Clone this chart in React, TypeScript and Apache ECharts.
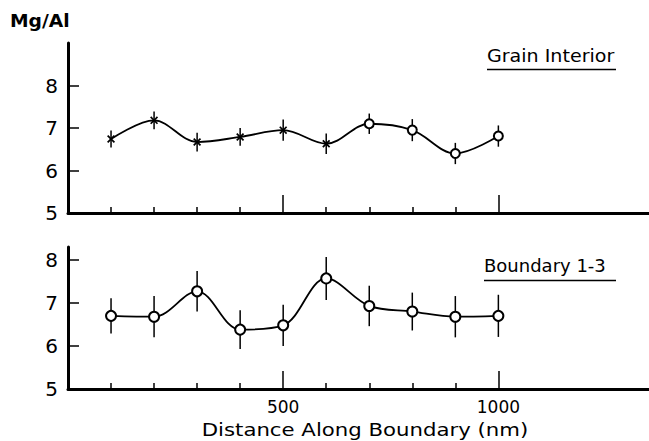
import React, { useEffect, useRef } from "react";
import * as echarts from "echarts";

const distances = [100, 200, 300, 400, 500, 600, 700, 800, 900, 1000];
const interiorValues = [6.74, 7.18, 6.67, 6.79, 6.95, 6.63, 7.1, 6.95, 6.4, 6.81];
const interiorErrors = [0.2, 0.21, 0.22, 0.21, 0.25, 0.24, 0.24, 0.26, 0.25, 0.25];
const interiorMarkers = ["cross", "cross", "cross", "cross", "cross", "cross", "circle", "circle", "circle", "circle"];
const boundaryValues = [6.7, 6.68, 7.27, 6.38, 6.48, 7.57, 6.93, 6.8, 6.68, 6.7];
const boundaryErrors = [0.41, 0.48, 0.47, 0.45, 0.48, 0.5, 0.47, 0.44, 0.48, 0.49];
const yLabelValues = [5, 6, 7, 8];
const yTickValues = [6, 7, 8];
const minorXTicks = [100, 200, 300, 400, 600, 700, 800, 900];
const majorXTicks = [500, 1000];
const panelTitles = ["Grain Interior", "Boundary 1-3"];
const yAxisTitle = "Mg/Al";
const xAxisTitle = "Distance Along Boundary (nm)";

const CROSS = "path://M0,1.5 L1.5,0 L5,3.5 L8.5,0 L10,1.5 L6.5,5 L10,8.5 L8.5,10 L5,6.5 L1.5,10 L0,8.5 L3.5,5 Z";
const FONT = "DejaVu Sans";

export default function App() {
  const ref = useRef<HTMLDivElement>(null);
  useEffect(() => {
    if (!ref.current) return;
    const chart = echarts.init(ref.current, null, { renderer: "svg" });

    const errRender = (params: any, api: any) => {
      const x = api.value(0);
      const y = api.value(1);
      const e = api.value(2);
      const p1 = api.coord([x, y + e]);
      const p2 = api.coord([x, y - e]);
      return {
        type: "line",
        shape: { x1: p1[0], y1: p1[1], x2: p2[0], y2: p2[1] },
        style: { stroke: "#000", lineWidth: 1.5 },
      };
    };

    const xMinor = (grid: number) => ({
      type: "value",
      gridIndex: grid,
      min: 0,
      max: 1350,
      position: "bottom",
      axisLine: { show: true, lineStyle: { color: "#000", width: 3 } },
      axisTick: { show: true, inside: true, length: 6, customValues: minorXTicks, lineStyle: { color: "#000", width: 1.5 } },
      axisLabel: { show: false },
      splitLine: { show: false },
    });
    const xMajor = (grid: number, labels: boolean) => ({
      type: "value",
      gridIndex: grid,
      min: 0,
      max: 1350,
      position: "bottom",
      offset: 0,
      axisLine: { show: false },
      axisTick: { show: true, inside: true, length: 18, customValues: majorXTicks, lineStyle: { color: "#000", width: 1.5 } },
      axisLabel: {
        show: labels,
        customValues: majorXTicks,
        formatter: (v: number) => String(v),
        color: "#000",
        fontSize: 17,
        fontFamily: FONT,
        margin: 9,
      },
      splitLine: { show: false },
    });
    const yAx = (grid: number, max: number) => ({
      type: "value",
      gridIndex: grid,
      min: 5,
      max,
      axisLine: { show: true, lineStyle: { color: "#000", width: 3 } },
      axisTick: { show: true, inside: true, length: 11, customValues: yTickValues, lineStyle: { color: "#000", width: 1.5 } },
      axisLabel: { show: true, customValues: yLabelValues, formatter: (v: number) => String(v), color: "#000", fontSize: 20, fontFamily: FONT, margin: 10 },
      splitLine: { show: false },
    });

    chart.setOption({
      animation: false,
      backgroundColor: "#fff",
      grid: [
        { left: 68, right: 0, top: 43, height: 170 },
        { left: 68, right: 0, top: 247, height: 142 },
      ],
      xAxis: [xMinor(0), xMajor(0, false), xMinor(1), xMajor(1, true)],
      yAxis: [yAx(0, 9), yAx(1, 8.3)],
      series: [
        {
          type: "custom",
          xAxisIndex: 0,
          yAxisIndex: 0,
          encode: { x: 0, y: 1 },
          data: distances.map((d, i) => [d, interiorValues[i], interiorErrors[i]]),
          renderItem: errRender,
          z: 1,
        },
        {
          type: "line",
          xAxisIndex: 0,
          yAxisIndex: 0,
          smooth: 0.35,
          lineStyle: { color: "#000", width: 1.8 },
          data: distances.map((d, i) =>
            interiorMarkers[i] === "cross"
              ? { value: [d, interiorValues[i]], symbol: CROSS, symbolSize: 8, itemStyle: { color: "#000", borderWidth: 0 } }
              : { value: [d, interiorValues[i]], symbol: "emptyCircle", symbolSize: 9, itemStyle: { color: "#000", borderColor: "#000", borderWidth: 1.6 } }
          ),
          z: 3,
        },
        {
          type: "custom",
          xAxisIndex: 2,
          yAxisIndex: 1,
          encode: { x: 0, y: 1 },
          data: distances.map((d, i) => [d, boundaryValues[i], boundaryErrors[i]]),
          renderItem: errRender,
          z: 1,
        },
        {
          type: "line",
          xAxisIndex: 2,
          yAxisIndex: 1,
          smooth: 0.35,
          symbol: "emptyCircle",
          symbolSize: 10,
          itemStyle: { color: "#000", borderColor: "#000", borderWidth: 1.6 },
          lineStyle: { color: "#000", width: 1.8 },
          data: distances.map((d, i) => [d, boundaryValues[i]]),
          z: 3,
        },
      ],
      graphic: [
        {
          type: "text",
          x: 10,
          y: 21,
          scaleX: 1.1,
          style: { text: yAxisTitle, fontSize: 17, fontWeight: "bold", fontFamily: FONT, fill: "#000", textVerticalAlign: "middle" },
        },
        {
          type: "text",
          x: 487,
          y: 56,
          scaleX: 1.06,
          style: { text: panelTitles[0], fontSize: 18, fontFamily: FONT, fill: "#000", textVerticalAlign: "middle" },
        },
        { type: "line", shape: { x1: 487, y1: 69.5, x2: 616, y2: 69.5 }, style: { stroke: "#000", lineWidth: 1.5 } },
        {
          type: "text",
          x: 484,
          y: 265,
          style: { text: panelTitles[1], fontSize: 18, fontFamily: FONT, fill: "#000", textVerticalAlign: "middle" },
        },
        { type: "line", shape: { x1: 484, y1: 280.5, x2: 616, y2: 280.5 }, style: { stroke: "#000", lineWidth: 1.5 } },
        {
          type: "text",
          x: 365,
          y: 430,
          scaleX: 1.25,
          style: { text: xAxisTitle, fontSize: 17, fontFamily: FONT, fill: "#000", textAlign: "center", textVerticalAlign: "middle" },
        },
      ],
    });
    return () => chart.dispose();
  }, []);
  return <div ref={ref} style={{ position: "fixed", left: 0, top: 0, width: 649, height: 441 }} />;
}
